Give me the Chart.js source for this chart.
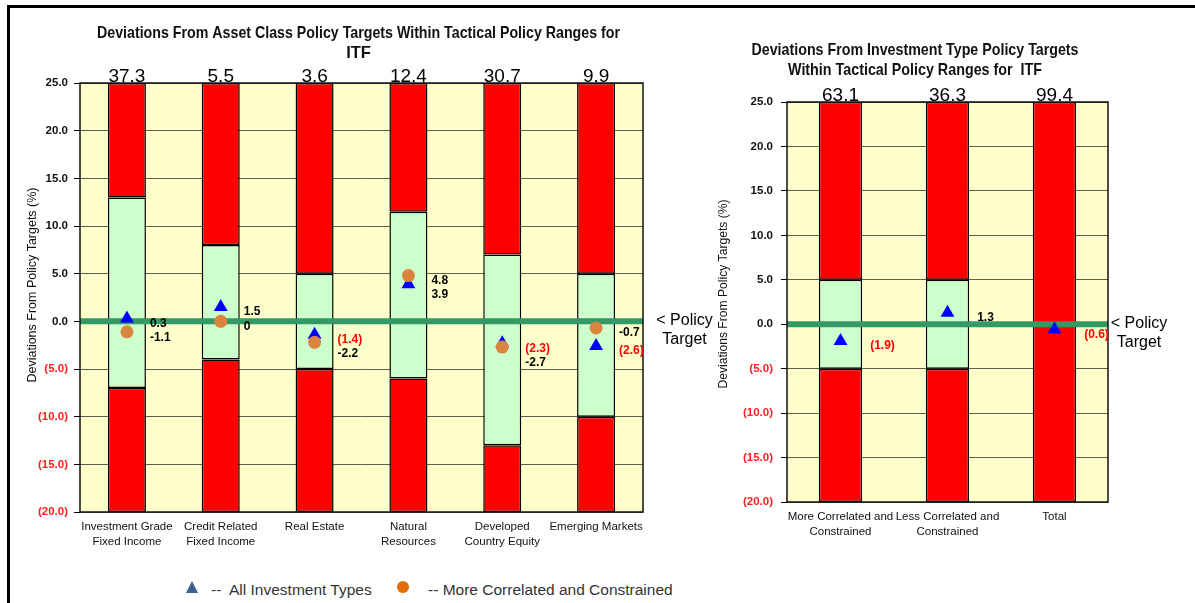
<!DOCTYPE html>
<html>
<head>
<meta charset="utf-8">
<title>Deviations From Policy Targets - ITF</title>
<script src="https://cdn.jsdelivr.net/npm/chart.js@4.4.1/dist/chart.umd.min.js"></script>
<style>
  body { margin: 0; background: #fff; width: 1195px; height: 603px; overflow: hidden; position: relative;
         font-family: "Liberation Sans", Arial, sans-serif; }
  .frame-top { position: absolute; left: 7px; top: 5px; width: 1188px; height: 3px; background: #000; }
  .frame-left { position: absolute; left: 7px; top: 5px; width: 3px; height: 598px; background: #000; }
  #leftChart { position: absolute; left: 10px; top: 8px; }
  #rightChart { position: absolute; left: 700px; top: 8px; }
  .legend span { position: absolute; top: 582px; font-size: 15.5px; line-height: 16px; color: #333; white-space: pre; }
  .legend .tri { position: absolute; left: 186px; top: 581px; width: 12px; height: 12px; background: #3b6090;
                 clip-path: polygon(50% 0, 100% 100%, 0 100%); }
  .legend .dot { position: absolute; left: 397px; top: 581px; width: 12px; height: 12px; border-radius: 50%; background: #e46c0a; }
</style>
</head>
<body>
<div class="frame-top"></div>
<div class="frame-left"></div>
<canvas id="leftChart" width="705" height="555"></canvas>
<canvas id="rightChart" width="495" height="555"></canvas>
<div class="legend">
  <div class="tri"></div>
  <span style="left:211px">--</span>
  <span style="left:229px">All Investment Types</span>
  <div class="dot"></div>
  <span style="left:428px">-- More Correlated and Constrained</span>
</div>
<script>
// asset class chart
const assetClasses = [["Investment Grade", "Fixed Income"], ["Credit Related", "Fixed Income"], ["Real Estate"],
                      ["Natural", "Resources"], ["Developed", "Country Equity"], ["Emerging Markets"]];
const assetActual = [37.3, 5.5, 3.6, 12.4, 30.7, 9.9];
const assetRangeLow = [-7, -4, -5, -6, -13, -10];
const assetRangeHigh = [13, 8, 5, 11.5, 7, 5];
const assetAllTypes = [0.3, 1.5, -1.4, 3.9, -2.3, -2.6];
const assetMoreCorr = [-1.1, 0, -2.2, 4.8, -2.7, -0.7];

// investment type chart
const investTypes = [["More Correlated and", "Constrained"], ["Less Correlated and", "Constrained"], ["Total"]];
const investActual = [63.1, 36.3, 99.4];
const investRangeLow = [-5, -5, null];
const investRangeHigh = [5, 5, null];
const investAllTypes = [-1.9, 1.3, -0.6];

// y axis
const yMin = -20, yMax = 25, yStep = 5;
const policyTarget = 0;

const FONT = '"Liberation Sans", Arial, sans-serif';
Chart.defaults.font.family = FONT;

function fmtParen(v) {
    return v < 0 ? '(' + Math.abs(v).toFixed(1) + ')' : v.toFixed(1);
}

function bandSets(low, high) {
    const bar = { type: 'bar', borderColor: '#000', borderWidth: 1.5, borderSkipped: false,
                  barPercentage: 0.405, categoryPercentage: 1, order: 3 };
    return [
        { ...bar, backgroundColor: '#ff0000', data: low.map(v => v === null ? [yMin, yMax] : [yMin, v]) },
        { ...bar, backgroundColor: '#ccffcc', data: low.map((v, i) => v === null ? null : [v, high[i]]) },
        { ...bar, backgroundColor: '#ff0000', data: high.map(v => v === null ? null : [v, yMax]) }
    ];
}

const chartDecor = {
    id: 'chartDecor',
    beforeDraw(chart) {
        const { ctx, chartArea: a } = chart;
        ctx.save();
        ctx.fillStyle = '#ffffcc';
        ctx.fillRect(a.left, a.top, a.right - a.left, a.bottom - a.top);
        ctx.restore();
    },
    beforeDatasetsDraw(chart) {
        chart.$lineDone = false;
    },
    beforeDatasetDraw(chart, args) {
        if (chart.$lineDone || args.meta.type !== 'line') return;
        const { ctx, chartArea: a } = chart;
        const y0 = chart.scales.y.getPixelForValue(policyTarget);
        ctx.save();
        ctx.strokeStyle = '#339966';
        ctx.lineWidth = 6;
        ctx.beginPath();
        ctx.moveTo(a.left, y0);
        ctx.lineTo(a.right, y0);
        ctx.stroke();
        ctx.restore();
        chart.$lineDone = true;
    },
    afterDraw(chart, args, o) {
        const { ctx, chartArea: a } = chart;
        const xs = chart.scales.x, ys = chart.scales.y;
        ctx.save();

        // plot border
        ctx.strokeStyle = '#111';
        ctx.lineWidth = 1.5;
        ctx.strokeRect(a.left, a.top, a.right - a.left, a.bottom - a.top);

        // titles
        ctx.fillStyle = '#111';
        ctx.textAlign = 'center';
        ctx.textBaseline = 'middle';
        ctx.font = 'bold 16.5px ' + FONT;
        o.title.forEach((line, i) => ctx.fillText(line, o.titleX, o.titleY[i], o.titleMax[i]));

        // y axis title
        ctx.save();
        ctx.translate(o.yTitleX, o.yTitleY);
        ctx.rotate(-Math.PI / 2);
        ctx.font = '13.5px ' + FONT;
        ctx.fillText('Deviations From Policy Targets (%)', 0, 0, o.yTitleMax);
        ctx.restore();

        // actual allocation above each bar
        ctx.fillStyle = '#000';
        ctx.font = '19px ' + FONT;
        ctx.textBaseline = 'alphabetic';
        o.actual.forEach((v, i) => ctx.fillText(v.toFixed(1), xs.getPixelForValue(i), a.top - 1));

        // policy target note
        const y0 = ys.getPixelForValue(policyTarget);
        ctx.font = '16px ' + FONT;
        ctx.textBaseline = 'middle';
        ctx.fillText('< Policy', a.right + o.noteDx, y0 - 1);
        ctx.fillText('Target', a.right + o.noteDx, y0 + 18);

        // point labels
        ctx.font = 'bold 12px ' + FONT;
        ctx.textAlign = 'left';
        const barMeta = chart.getDatasetMeta(0);
        xs.getLabels().forEach((_, i) => {
            const bar = barMeta.data[i];
            const lx = bar.x + bar.width / 2 + o.labelDx;
            const items = [];
            chart.data.datasets.forEach((ds, di) => {
                if (ds.type !== 'line' || ds.data[i] === null) return;
                const v = ds.data[i];
                const paren = ds.negStyle === 'paren';
                items.push({
                    y: chart.getDatasetMeta(di).data[i].y,
                    text: paren ? fmtParen(v) : String(v),
                    color: paren && v < 0 ? '#ff0000' : '#000'
                });
            });
            items.sort((p, q) => p.y - q.y);
            let prev = -Infinity;
            items.forEach(it => {
                const ly = Math.max(it.y + 5, prev + 14);
                ctx.fillStyle = it.color;
                ctx.fillText(it.text, lx, ly);
                prev = ly;
            });
        });
        ctx.restore();
    }
};

function makeChart(id, labels, datasets, cfg) {
    return new Chart(document.getElementById(id), {
        data: { labels: labels, datasets: datasets },
        plugins: [chartDecor],
        options: {
            responsive: false,
            animation: false,
            devicePixelRatio: 1,
            layout: { padding: cfg.padding },
            plugins: {
                legend: { display: false },
                tooltip: { enabled: false },
                chartDecor: cfg.decor
            },
            scales: {
                x: {
                    stacked: true,
                    grid: { display: false, drawTicks: false },
                    border: { display: false },
                    ticks: { color: '#111', padding: 7, maxRotation: 0, autoSkip: false,
                             font: { size: 11.5, lineHeight: 1.35 } },
                    afterFit: s => { s.height = 40; }
                },
                y: {
                    min: yMin, max: yMax,
                    border: { display: false },
                    grid: { color: '#5e5e48', lineWidth: 1, tickLength: 6, tickColor: '#000' },
                    ticks: {
                        stepSize: yStep, padding: cfg.tickPad,
                        font: { size: 11.5, weight: 'bold' },
                        color: c => c.tick.value < 0 ? '#ff2020' : '#111',
                        callback: v => fmtParen(v)
                    },
                    afterFit: s => { s.width = cfg.axisWidth; }
                }
            }
        }
    });
}

function markerSet(data, style, color, radius, order, negStyle) {
    return { type: 'line', data: data, showLine: false, pointStyle: style, pointRadius: radius,
             pointHoverRadius: radius, pointBackgroundColor: color, pointBorderColor: color,
             pointBorderWidth: 0, order: order, negStyle: negStyle };
}

makeChart('leftChart', assetClasses, [
    ...bandSets(assetRangeLow, assetRangeHigh),
    markerSet(assetAllTypes, 'triangle', '#0000ff', 8, 2, 'paren'),
    markerSet(assetMoreCorr, 'circle', '#d9843f', 6.5, 1, 'plain')
], {
    padding: { left: 0, top: 75, right: 72, bottom: 11 },
    axisWidth: 70, tickPad: 6,
    decor: {
        title: ['Deviations From Asset Class Policy Targets Within Tactical Policy Ranges for', 'ITF'],
        titleX: 348.5, titleY: [25, 45.5], titleMax: [523, 100],
        yTitleX: 22, yTitleY: 277, yTitleMax: 195,
        actual: assetActual, noteDx: 41.5, labelDx: 4
    }
});

makeChart('rightChart', investTypes, [
    ...bandSets(investRangeLow, investRangeHigh),
    markerSet(investAllTypes, 'triangle', '#0000ff', 8, 2, 'paren')
], {
    padding: { left: 0, top: 94, right: 87, bottom: 21 },
    axisWidth: 87, tickPad: 8,
    decor: {
        title: ['Deviations From Investment Type Policy Targets', 'Within Tactical Policy Ranges for  ITF'],
        titleX: 215, titleY: [42, 62], titleMax: [327, 254],
        yTitleX: 23, yTitleY: 286, yTitleMax: 189,
        actual: investActual, noteDx: 31, labelDx: 8
    }
});
</script>
</body>
</html>
